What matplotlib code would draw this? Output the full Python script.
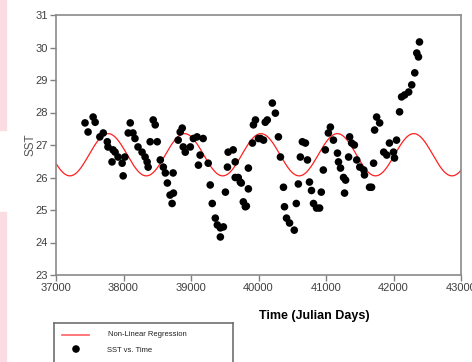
import numpy as np
import matplotlib
matplotlib.use('Agg')
from matplotlib import pyplot as plt
from matplotlib.patches import Rectangle

plt.rcParams['font.family'] = ['Liberation Sans', 'DejaVu Sans']

# observed SST points (Julian day, SST)
days = [37430, 37475, 37550, 37580, 37650, 37700, 37760, 37770, 37830, 37845,
        37875, 37920, 37980, 37995, 38020, 38070, 38100, 38140, 38170, 38215,
        38275, 38320, 38350, 38365, 38395, 38440, 38470, 38500, 38545, 38590,
        38620, 38650, 38690, 38720, 38740, 38735, 38810, 38840, 38870, 38885,
        38915, 38990, 39035, 39090, 39110, 39135, 39180, 39255, 39285, 39315,
        39360, 39390, 39435, 39480, 39435, 39510, 39540, 39550, 39625, 39655,
        39655, 39700, 39730, 39745, 39775, 39805, 39820, 39850, 39850, 39910,
        39925, 39955, 40000, 40030, 40075, 40100, 40130, 40205, 40250, 40295,
        40325, 40370, 40385, 40415, 40460, 40530, 40560, 40590, 40620, 40650,
        40695, 40725, 40755, 40785, 40815, 40860, 40905, 40930, 40960, 40990,
        41035, 41065, 41110, 41170, 41185, 41215, 41260, 41275, 41290, 41335,
        41350, 41380, 41420, 41455, 41500, 41560, 41570, 41645, 41675, 41705,
        41720, 41750, 41795, 41855, 41900, 41940, 42000, 42015, 42045, 42090,
        42120, 42165, 42225, 42270, 42315, 42345, 42370, 42385]
sst = [27.68, 27.40, 27.86, 27.70, 27.25, 27.37, 27.10, 26.94, 26.48, 26.85,
       26.78, 26.63, 26.44, 26.05, 26.63, 27.37, 27.68, 27.37, 27.20, 26.94,
       26.78, 26.63, 26.48, 26.32, 27.10, 27.77, 27.62, 27.10, 26.54, 26.32,
       26.14, 25.83, 25.46, 25.20, 25.52, 26.14, 27.15, 27.40, 27.52, 26.94,
       26.78, 26.94, 27.20, 27.25, 26.38, 26.69, 27.20, 26.44, 25.77, 25.20,
       24.75, 24.54, 24.45, 24.48, 24.17, 25.55, 26.32, 26.78, 26.85, 26.48,
       26.00, 26.00, 25.86, 25.83, 25.25, 25.10, 25.12, 25.65, 26.29, 27.06,
       27.62, 27.77, 27.20, 27.20, 27.15, 27.70, 27.77, 28.29, 27.98, 27.25,
       26.63, 25.70, 25.10, 24.75, 24.60, 24.38, 25.20, 25.80, 26.63, 27.10,
       27.06, 26.54, 25.86, 25.60, 25.20, 25.06, 25.06, 25.55, 26.23, 26.85,
       27.37, 27.55, 27.15, 26.75, 26.48, 26.29, 26.00, 25.52, 25.92, 26.63,
       27.25, 27.06, 27.00, 26.54, 26.32, 26.23, 26.08, 25.70, 25.70, 26.44,
       27.46, 27.86, 27.68, 26.78, 26.69, 27.06, 26.78, 26.60, 27.15, 28.02,
       28.48, 28.54, 28.63, 28.85, 29.22, 29.83, 29.71, 30.17]

# fitted sinusoid parameters
fit_mean = 26.7
fit_amp = 0.65
fit_period = 1132.0
fit_peak = 37772.0

xticks = [37000, 38000, 39000, 40000, 41000, 42000, 43000]
yticks = [23, 24, 25, 26, 27, 28, 29, 30, 31]

W, H = 472, 362
fig = plt.figure(figsize=(W / 100, H / 100), dpi=100)

# pink strips on the left edge
fig.patches.append(Rectangle((0, 1 - 130 / H), 6 / W, 130 / H, transform=fig.transFigure,
                             color='#fbdce3', zorder=0))
fig.patches.append(Rectangle((0, 0), 6 / W, (H - 212) / H, transform=fig.transFigure,
                             color='#fbdce3', zorder=0))

ax = fig.add_axes([56 / W, 1 - 275 / H, (461 - 56) / W, (275 - 15) / H])

t = np.linspace(37000, 43000, 800)
curve = fit_mean + fit_amp * np.cos(2 * np.pi * (t - fit_peak) / fit_period)
ax.plot(t, curve, color='#ff2020', lw=0.9, zorder=2)
ax.scatter(days, sst, s=30, color='black', edgecolors='none', zorder=3)

ax.set_xlim(37000, 43000)
ax.set_ylim(23, 31)
ax.set_xticks(xticks)
ax.set_yticks(yticks)
ax.tick_params(direction='out', length=4, width=1, color='#808080',
               labelsize=8, labelcolor='#404040', pad=2)
for s in ax.spines.values():
    s.set_color('#8a8a8a')
    s.set_linewidth(1.2)

fig.text(30 / W, 1 - 145 / H, 'SST', rotation=90, ha='center', va='center',
         fontsize=8.5, color='#555555')
fig.text(314 / W, 1 - 316 / H, 'Time (Julian Days)', ha='center', va='center',
         fontsize=9, fontweight='bold', color='black')

# legend box (cut by the bottom edge)
lg = fig.add_axes([54 / W, 0, (233 - 54) / W, (H - 323) / H])
lg.set_xlim(54, 233)
lg.set_ylim(362, 323)
lg.set_xticks([])
lg.set_yticks([])
for k, s in lg.spines.items():
    s.set_color('#707070')
    s.set_linewidth(1.2)
lg.spines['bottom'].set_visible(False)
lg.plot([62, 89], [335, 335], color='#ff6060', lw=1.2)
lg.scatter([76], [349], s=30, color='black', edgecolors='none')
lg.text(108, 334, 'Non-Linear Regression', fontsize=5.5, va='center', color='#202020')
lg.text(107, 350, 'SST vs. Time', fontsize=5.5, va='center', color='#202020')

fig.savefig('out.png', dpi=100)
